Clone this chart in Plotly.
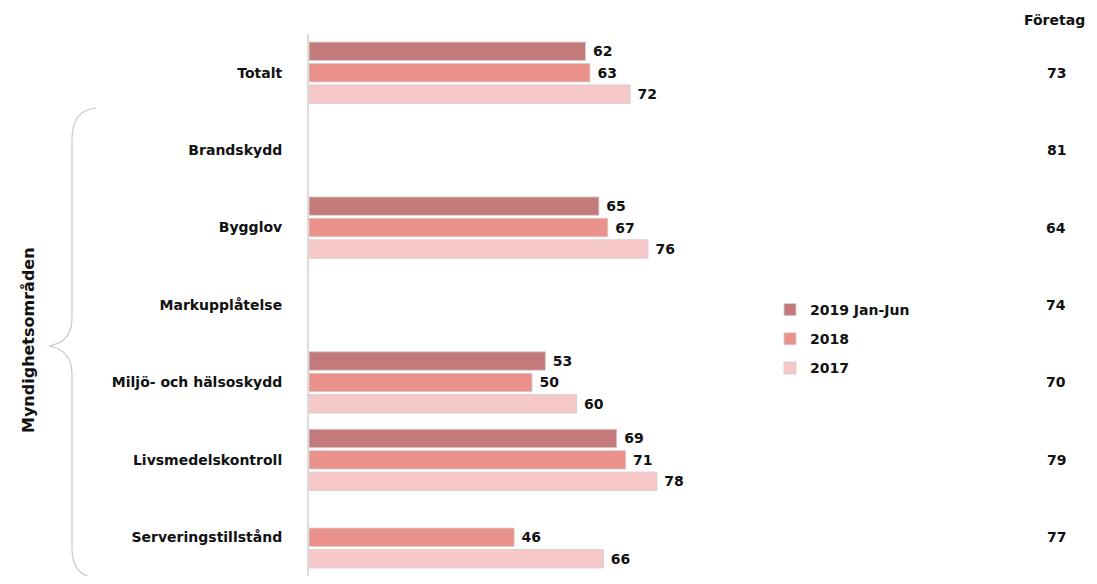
import plotly.graph_objects as go

categories = ["Totalt", "Brandskydd", "Bygglov", "Markupplåtelse",
              "Miljö- och hälsoskydd", "Livsmedelskontroll", "Serveringstillstånd"]
series_names = ["2019 Jan-Jun", "2018", "2017"]
values_2019 = [62, None, 65, None, 53, 69, None]
values_2018 = [63, None, 67, None, 50, 71, 46]
values_2017 = [72, None, 76, None, 60, 78, 66]
foretag = [73, 81, 64, 74, 70, 79, 77]
colors = ["#c27b7a", "#ea918c", "#f6c8c8"]

OFF = 8  # page body margin
W, H = 1097 - 2 * OFF, 584 - 2 * OFF
# plot area in page pixels
L, R, T, B = 309, 755, 34, 576
FONT = "DejaVu Sans, Arial, sans-serif"
TXT = "#111111"

def px(x):
    return (x - L) / (R - L)

def py(y):
    return 1 - (y - T) / (B - T)

fig = go.Figure()
for i, (name, vals) in enumerate(zip(series_names, [values_2019, values_2018, values_2017])):
    fig.add_trace(go.Bar(
        y=categories, x=vals, orientation="h", name=f"<b>{name}</b>",
        legendgroup=name,
        marker=dict(color=colors[i], line=dict(color="rgba(215,205,205,0.9)", width=1)),
        texttemplate="\u00a0<b>%{x}</b>",
        textposition="outside", cliponaxis=False,
        textfont=dict(family=FONT, size=14, color=TXT),
    ))

# Företag column
fig.add_annotation(x=px(1054), y=py(20), xref="paper", yref="paper", text="<b>Företag</b>",
                   xanchor="center", yanchor="middle",
                   showarrow=False, font=dict(family=FONT, size=14, color=TXT))
for c, v in zip(categories, foretag):
    fig.add_annotation(x=px(1056), y=c, xref="paper", yref="y", text=f"<b>{v}</b>",
                       xanchor="center", yanchor="middle",
                       showarrow=False, font=dict(family=FONT, size=14, color=TXT))

# Side label
fig.add_annotation(x=px(28), y=py(340), xref="paper", yref="paper", text="<b>Myndighetsområden</b>",
                   xanchor="center", yanchor="middle",
                   textangle=-90, showarrow=False, font=dict(family=FONT, size=16, color=TXT))

# Curly brace
def P(x, y):
    return f"{px(x)} {py(y)}"
path = (f"M {P(96,108)} Q {P(72,110)} {P(72,140)} L {P(72,318)} "
        f"Q {P(72,342)} {P(49,346)} Q {P(72,350)} {P(72,374)} L {P(72,548)} "
        f"Q {P(72,576)} {P(96,578)}")
fig.add_shape(type="path", path=path, xref="paper", yref="paper",
              line=dict(color="#c8c8c8", width=1.2))

fig.update_layout(
    width=W, height=H,
    margin=dict(l=L - OFF, r=W + OFF - R, t=T - OFF, b=H + OFF - B),
    paper_bgcolor="white", plot_bgcolor="white",
    barmode="group", bargap=0.17, bargroupgap=0.14,
    showlegend=True,
    legend=dict(x=px(770), y=py(294), xanchor="left", yanchor="top",
                traceorder="grouped", tracegroupgap=8,
                font=dict(family=FONT, size=14, color=TXT),
                itemwidth=30, bgcolor="rgba(0,0,0,0)"),
    xaxis=dict(range=[0, 100], showgrid=False, zeroline=False, showticklabels=False,
               showline=True, linecolor="#dcdcdc", linewidth=2, ticks=""),
    yaxis=dict(autorange="reversed", showgrid=False, showline=True, linecolor="#dcdcdc",
               linewidth=2, ticks="", ticklabelstandoff=22,
               tickprefix="<b>", ticksuffix="</b>",
               tickfont=dict(family=FONT, size=14, color=TXT)),
    font=dict(family=FONT, color=TXT),
)
fig.write_html("out.html")
